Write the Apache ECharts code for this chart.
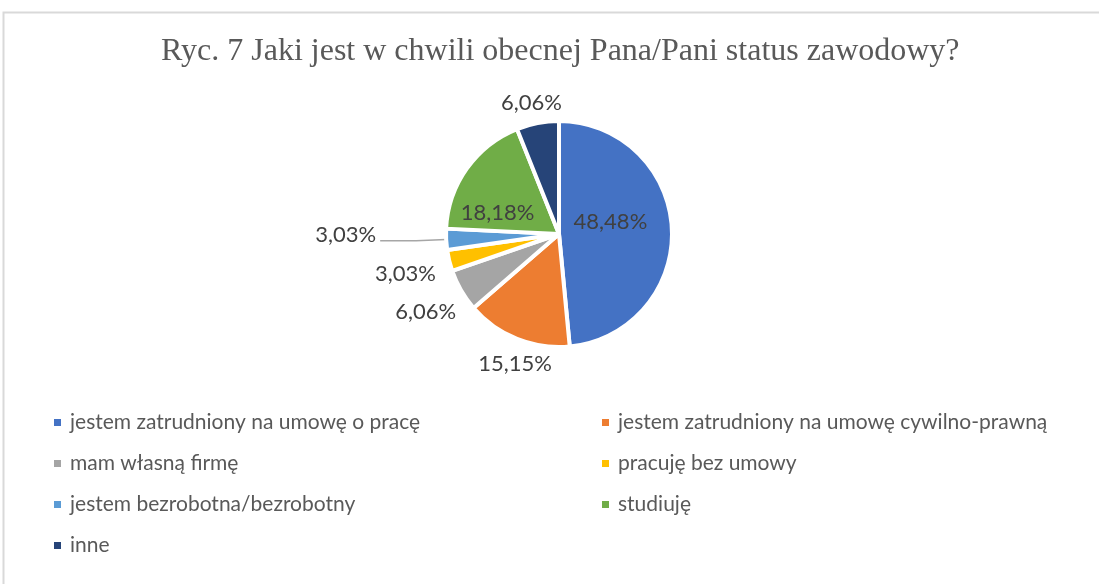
<!DOCTYPE html>
<html>
<head>
<meta charset="utf-8">
<script src="https://cdn.jsdelivr.net/npm/echarts@6/dist/echarts.min.js"></script>
<style>
  html, body { margin: 0; padding: 0; background: #fff; }
  #chart { width: 1099px; height: 584px; }
</style>
</head>
<body>
<div id="chart"></div>
<script>
const titleText = 'Ryc. 7 Jaki jest w chwili obecnej Pana/Pani status zawodowy?';

const categories = [
    'jestem zatrudniony na umowę o pracę',
    'jestem zatrudniony na umowę cywilno-prawną',
    'mam własną firmę',
    'pracuję bez umowy',
    'jestem bezrobotna/bezrobotny',
    'studiuję',
    'inne'
];
// answers out of 33 respondents
const counts = [16, 5, 2, 1, 1, 6, 2];
const colors = ['#4472C4', '#ED7D31', '#A5A5A5', '#FFC000', '#5B9BD5', '#70AD47', '#264478'];

// label placement per slice (Excel "best fit" look)
const labelPlace = [
    {pos: 'inside', dx: -8, dy: -9},
    {pos: 'outside', len: 24, dx: 11, dy: 3},
    {pos: 'outside', len: 42, dx: 5, dy: 0},
    {pos: 'outside', len: 46, dx: 5, dy: 2},
    {pos: 'outside', len: 30, len2: 36, line: true},
    {pos: 'inside', dx: -13, dy: 13},
    {pos: 'outside', len: 22, dx: 2, dy: 1}
];

const total = counts.reduce((a, b) => a + b, 0);
const fmtPct = v => (v / total * 100).toFixed(2).replace('.', ',') + '%';

const chart = echarts.init(document.getElementById('chart'));

const seriesData = categories.map((name, i) => {
    let p = labelPlace[i];
    return {
        name,
        value: counts[i],
        itemStyle: {color: colors[i]},
        label: {position: p.pos},
        labelLine: {
            show: !!p.line,
            length: p.len || 0,
            length2: p.len2 || 0,
            lineStyle: {color: '#A6A6A6', width: 1.5}
        }
    };
});

const legendText = {
    color: '#595959',
    fontFamily: 'Lato',
    fontSize: 21,
    padding: [0, 0, 0, 3]
};

chart.setOption({
    animation: false,
    backgroundColor: '#fff',
    graphic: [{
        type: 'rect',
        shape: {x: 3.5, y: 12.5, width: 1200, height: 700},
        style: {fill: 'none', stroke: '#D9D9D9', lineWidth: 2}
    }],
    title: {
        text: titleText,
        left: 156,
        top: 31,
        textStyle: {
            fontFamily: 'Liberation Serif',
            fontWeight: 'normal',
            fontSize: 32,
            color: '#595959'
        }
    },
    legend: [{
        orient: 'vertical',
        left: 47,
        top: 407,
        icon: 'rect',
        itemWidth: 9,
        itemHeight: 9,
        itemGap: 20,
        selectedMode: false,
        data: [categories[0], categories[2], categories[4], categories[6]],
        textStyle: legendText
    }, {
        orient: 'vertical',
        left: 595,
        top: 407,
        icon: 'rect',
        itemWidth: 9,
        itemHeight: 9,
        itemGap: 20,
        selectedMode: false,
        data: [categories[1], categories[3], categories[5]],
        textStyle: legendText
    }],
    series: [{
        type: 'pie',
        center: [559, 234],
        radius: 113,
        startAngle: 90,
        clockwise: true,
        avoidLabelOverlap: false,
        itemStyle: {borderColor: '#fff', borderWidth: 4},
        label: {
            show: true,
            formatter: p => fmtPct(p.value),
            fontFamily: 'Lato',
            fontSize: 22,
            color: '#404040',
            distanceToLabelLine: 4
        },
        labelLayout: params => {
            let p = labelPlace[params.dataIndex];
            if (p.line) return {dy: -6};
            return {align: 'center', verticalAlign: 'middle', dx: p.dx, dy: p.dy};
        },
        emphasis: {disabled: true},
        data: seriesData
    }]
});
</script>
</body>
</html>
